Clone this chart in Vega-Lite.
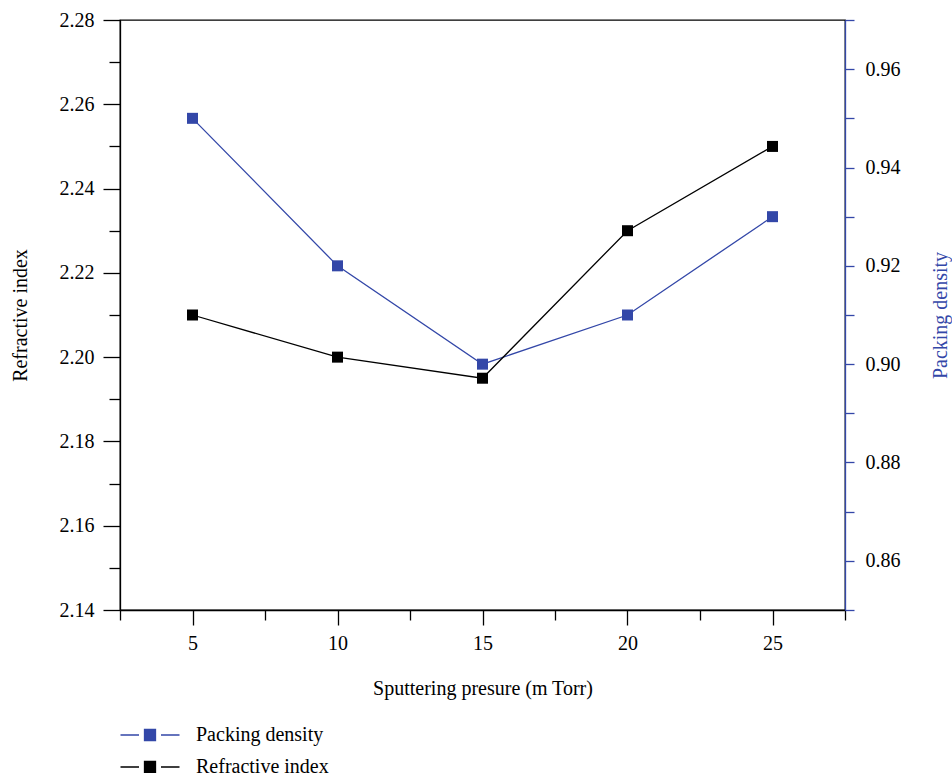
{
  "$schema": "https://vega.github.io/schema/vega-lite/v6.json",
  "autosize": "none",
  "width": 725,
  "height": 590,
  "padding": {"left": 120, "top": 20, "right": 107, "bottom": 163},
  "background": "white",
  "data": {
    "values": [
      {"pressure": 5, "refractive": 2.21, "packing": 0.95},
      {"pressure": 10, "refractive": 2.2, "packing": 0.92},
      {"pressure": 15, "refractive": 2.195, "packing": 0.9},
      {"pressure": 20, "refractive": 2.23, "packing": 0.91},
      {"pressure": 25, "refractive": 2.25, "packing": 0.93}
    ]
  },
  "encoding": {
    "x": {
      "field": "pressure",
      "type": "quantitative",
      "scale": {"domain": [2.5, 27.5], "nice": false, "zero": false},
      "axis": {
        "title": "Sputtering presure (m Torr)",
        "values": [2.5, 5, 7.5, 10, 12.5, 15, 17.5, 20, 22.5, 25, 27.5],
        "labelExpr": "datum.value % 5 == 0 ? format(datum.value, 'd') : ''",
        "tickSize": {"condition": {"test": "datum.value % 5 == 0", "value": 15}, "value": 10},
        "labelPadding": 8,
        "titleX": 362.5,
        "titleY": 78,
        "titleBaseline": "middle",
        "titleAlign": "center"
      }
    }
  },
  "layer": [
    {
      "encoding": {
        "y": {
          "field": "packing",
          "type": "quantitative",
          "scale": {"domain": [0.85, 0.97], "nice": false, "zero": false},
          "axis": {
            "orient": "right",
            "title": "Packing density",
            "titleColor": "#3347a8",
            "domainColor": "#3347a8",
            "tickColor": "#3347a8",
            "values": [0.85, 0.86, 0.87, 0.88, 0.89, 0.9, 0.91, 0.92, 0.93, 0.94, 0.95, 0.96, 0.97],
            "labelExpr": "round(datum.value * 100) % 2 == 0 ? format(datum.value, '.2f') : ''",
            "tickSize": 9,
            "labelPadding": 11,
            "titleAngle": -90,
            "titleX": 95,
            "titleY": 295,
            "titleBaseline": "middle",
            "titleAlign": "center"
          }
        },
        "color": {
          "datum": "Packing density",
          "type": "nominal",
          "scale": {"domain": ["Packing density", "Refractive index"], "range": ["#3347a8", "#000000"]},
          "legend": {
            "title": null,
            "orient": "none",
            "legendX": 19,
            "legendY": 704,
            "padding": 0,
            "symbolType": "M-2.95,0L-1.1,0M-0.55,-0.55L0.55,-0.55L0.55,0.55L-0.55,0.55ZM1.1,0L2.95,0",
            "symbolSize": 400,
            "symbolStrokeWidth": 1.3,
            "labelOffset": 35,
            "labelFontSize": 20,
            "rowPadding": 11,
            "encode": {
              "symbols": {
                "update": {
                  "fill": {"scale": "color", "field": "value"},
                  "stroke": {"scale": "color", "field": "value"},
                  "opacity": {"value": 1},
                  "fillOpacity": {"value": 1},
                  "strokeOpacity": {"value": 1}
                }
              }
            }
          }
        }
      },
      "layer": [
        {"mark": {"type": "line", "strokeWidth": 1.3}},
        {"mark": {"type": "point", "shape": "square", "filled": true, "size": 121, "opacity": 1}}
      ]
    },
    {
      "encoding": {
        "y": {
          "field": "refractive",
          "type": "quantitative",
          "scale": {"domain": [2.14, 2.28], "nice": false, "zero": false},
          "axis": {
            "orient": "left",
            "title": "Refractive index",
            "values": [2.14, 2.15, 2.16, 2.17, 2.18, 2.19, 2.2, 2.21, 2.22, 2.23, 2.24, 2.25, 2.26, 2.27, 2.28],
            "labelExpr": "round(datum.value * 100) % 2 == 0 ? format(datum.value, '.2f') : ''",
            "tickSize": {"condition": {"test": "round(datum.value * 100) % 2 == 0", "value": 17}, "value": 11},
            "labelPadding": 9,
            "titleAngle": -90,
            "titleX": -100,
            "titleY": 295,
            "titleBaseline": "middle",
            "titleAlign": "center"
          }
        },
        "color": {"datum": "Refractive index", "type": "nominal"}
      },
      "layer": [
        {"mark": {"type": "line", "strokeWidth": 1.3}},
        {"mark": {"type": "point", "shape": "square", "filled": true, "size": 121, "opacity": 1}}
      ]
    }
  ],
  "resolve": {"scale": {"y": "independent"}},
  "config": {
    "font": "Liberation Serif",
    "view": {"stroke": "black", "strokeWidth": 1.3},
    "axis": {
      "labelFont": "Liberation Serif",
      "titleFont": "Liberation Serif",
      "labelFontSize": 20,
      "titleFontSize": 20,
      "titleFontWeight": "normal",
      "labelColor": "black",
      "titleColor": "black",
      "domainColor": "black",
      "tickColor": "black",
      "domainWidth": 1.3,
      "tickWidth": 1.3,
      "grid": false,
      "labelOverlap": false,
      "labelFlush": false
    },
    "legend": {"labelFont": "Liberation Serif", "labelColor": "black"}
  }
}
